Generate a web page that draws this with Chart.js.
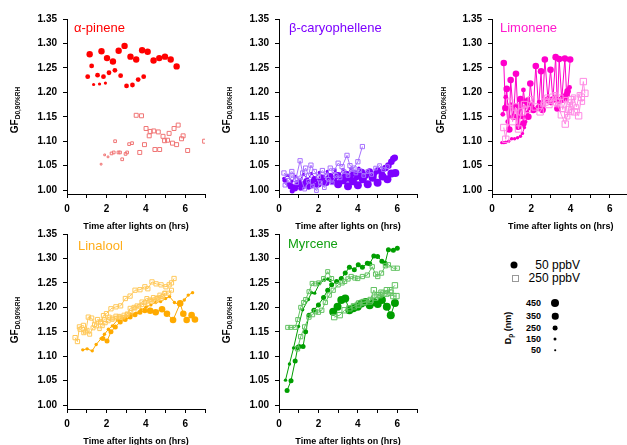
<!DOCTYPE html>
<html>
<head>
<meta charset="utf-8">
<script src="https://cdn.jsdelivr.net/npm/chart.js@4.4.1/dist/chart.umd.min.js"></script>
<style>
  body { margin: 0; width: 627px; height: 445px; overflow: hidden; background: #fff; position: relative;
         font-family: Arial, "Liberation Sans", sans-serif; }
  canvas { position: absolute; }
  .ttl { position: absolute; font-size: 13px; line-height: 1; white-space: nowrap; transform: translateY(-50%); }
  .gf { position: absolute; font-weight: bold; font-size: 10px; white-space: nowrap; line-height: 1;
        transform: translate(-50%, -50%) rotate(-90deg); }
  .gf sub { font-size: 6.5px; vertical-align: -2px; }
  .lg { position: absolute; font-size: 12px; line-height: 1; white-space: nowrap; transform: translateY(-50%); }
  .dp { position: absolute; font-size: 9px; font-weight: bold; line-height: 1; transform: translateY(-50%); }
  .dot { position: absolute; background: #000; border-radius: 50%; transform: translate(-50%, -50%); }
</style>
</head>
<body>

<canvas id="pinene" width="210" height="234" style="left:0;top:0"></canvas>
<canvas id="caryo" width="210" height="234" style="left:212px;top:0"></canvas>
<canvas id="limo" width="210" height="234" style="left:425px;top:0"></canvas>
<canvas id="lina" width="210" height="234" style="left:0;top:215px"></canvas>
<canvas id="myrc" width="210" height="234" style="left:212px;top:215px"></canvas>

<div class="ttl" style="left:74px;top:27px;color:#ff0000">&alpha;-pinene</div>
<div class="ttl" style="left:289px;top:27px;color:#7d00ff">&beta;-caryophellene</div>
<div class="ttl" style="left:500px;top:27px;color:#ff1acc">Limonene</div>
<div class="ttl" style="left:78px;top:245px;color:#ffad1a">Linalool</div>
<div class="ttl" style="left:288px;top:243px;color:#12a012">Myrcene</div>

<div class="gf" style="left:16px;top:110px">GF<sub>D0,90%RH</sub></div>
<div class="gf" style="left:228px;top:110px">GF<sub>D0,90%RH</sub></div>
<div class="gf" style="left:442px;top:110px">GF<sub>D0,90%RH</sub></div>
<div class="gf" style="left:16px;top:320px">GF<sub>D0,90%RH</sub></div>
<div class="gf" style="left:228px;top:320px">GF<sub>D0,90%RH</sub></div>

<!-- legend -->
<div class="dot" style="left:514px;top:265px;width:7px;height:7px"></div>
<div class="lg" style="right:47px;top:265px">50 ppbV</div>
<div style="position:absolute;left:512px;top:275px;width:5px;height:5px;border:1px solid #999"></div>
<div class="lg" style="right:47px;top:278px">250 ppbV</div>
<div class="dp" style="right:86px;top:303px">450</div>
<div class="dp" style="right:86px;top:316px">350</div>
<div class="dp" style="right:86px;top:328px">250</div>
<div class="dp" style="right:86px;top:339px">150</div>
<div class="dp" style="right:86px;top:350px">50</div>
<div class="dot" style="left:555px;top:303px;width:8px;height:8px"></div>
<div class="dot" style="left:555px;top:316px;width:6.5px;height:6.5px"></div>
<div class="dot" style="left:555px;top:328px;width:4.8px;height:4.8px"></div>
<div class="dot" style="left:555px;top:339px;width:3px;height:3px"></div>
<div class="dot" style="left:555px;top:350px;width:1.6px;height:1.6px"></div>
<div class="gf" style="left:509px;top:328px;font-size:9px">D<sub>p</sub> (nm)</div>

<script>
// axis ticks
const timeTicks = [0, 1, 2, 3, 4, 5, 6, 7];
const gfTicks = [1.00, 1.05, 1.10, 1.15, 1.20, 1.25, 1.30, 1.35];

// ---- alpha-pinene: [time (h), GF]
const pin50_350 = [[1.15,1.278],[1.75,1.284],[2.03,1.270],[2.33,1.263],[2.62,1.285],[2.92,1.295],[3.22,1.273],[3.51,1.267],[3.81,1.286],[4.09,1.283],[4.39,1.265],[4.68,1.270],[4.97,1.273],[5.26,1.267],[5.56,1.253]];
const pin50_250 = [[1.05,1.232],[1.25,1.254],[1.55,1.235],[1.85,1.232],[2.13,1.240],[2.43,1.245],[2.72,1.234],[3.02,1.213],[3.32,1.215],[3.61,1.226],[3.89,1.232]];
const pin50_150 = [[1.35,1.216],[1.65,1.217],[1.95,1.219]];
const pin250_big = [[3.51,1.153],[3.78,1.152],[4.01,1.126],[4.17,1.111],[4.22,1.120],[4.40,1.121],[4.63,1.119],[4.87,1.110],[4.95,1.101],[5.10,1.102],[5.18,1.116],[5.35,1.096],[5.43,1.126],[5.56,1.093],[5.64,1.133],[5.81,1.105],[5.89,1.111],[6.12,1.081],[6.98,1.100],[4.46,1.083],[4.70,1.083],[3.93,1.093],[3.69,1.077]];
const pin250_small = [[2.26,1.075],[2.37,1.077],[2.44,1.100],[2.61,1.077],[2.69,1.077],[2.80,1.063],[2.97,1.074],[3.05,1.077],[3.15,1.094],[3.30,1.096]];
const pin250_tiny = [[1.73,1.053],[1.91,1.072],[2.08,1.068]];

// ---- beta-caryophellene
const bc50_450 = [[3.0,1.012],[3.25,1.020],[3.5,1.008],[3.75,1.018],[4.0,1.010],[4.25,1.022],[4.5,1.012],[4.75,1.025],[5.0,1.015],[5.25,1.028],[5.5,1.022],[5.7,1.034],[5.9,1.035]];
const bc50_350 = [[0.6,1.008],[0.8,1.004],[1.0,1.015],[1.2,1.008],[1.4,1.018],[1.6,1.010],[1.8,1.022],[2.0,1.012],[2.2,1.025],[2.4,1.015],[2.6,1.028],[2.8,1.018],[3.0,1.030],[3.2,1.022],[3.4,1.033],[3.6,1.025],[3.8,1.035],[4.0,1.028],[4.2,1.037],[4.4,1.030],[4.6,1.038],[4.8,1.032],[5.0,1.040],[5.2,1.036],[5.4,1.045],[5.55,1.050],[5.7,1.058],[5.8,1.064],[5.87,1.066]];
const bc50_250 = [[0.3,1.020],[0.5,1.012],[0.67,0.998],[0.9,1.010],[1.1,1.004],[1.3,1.015],[1.5,1.006],[1.7,1.018],[1.9,1.010],[2.1,1.022],[2.3,1.014],[2.5,1.025],[2.7,1.016],[2.9,1.028],[3.1,1.020],[3.3,1.030],[3.5,1.022],[3.7,1.032],[3.9,1.024],[4.1,1.034],[4.3,1.026],[4.5,1.035],[4.7,1.028],[4.9,1.036]];
const bc50_150 = [[0.25,1.024],[0.45,1.030],[0.65,1.018],[0.85,1.028],[1.05,1.020],[1.25,1.032],[1.45,1.022],[1.65,1.034],[1.85,1.024],[2.05,1.036],[2.25,1.026],[2.45,1.038],[2.65,1.028],[2.85,1.040],[3.05,1.030],[3.25,1.042],[3.45,1.032],[3.65,1.044],[3.85,1.034],[4.05,1.045]];
const bc250_a = [[0.25,1.035],[0.42,1.028],[0.65,1.038],[0.85,1.022],[1.07,1.060],[1.2,1.035],[1.35,1.045],[1.5,1.030],[1.62,1.051],[1.8,1.038],[2.0,1.028],[2.2,1.040],[2.4,1.030],[2.6,1.045],[2.8,1.040],[3.0,1.055],[3.2,1.048],[3.45,1.071],[3.6,1.050],[3.8,1.045],[4.0,1.058],[4.23,1.089]];
const bc250_b = [[0.3,1.010],[0.5,1.020],[0.7,1.030],[0.9,1.015],[1.1,1.025],[1.3,1.002],[1.5,1.018],[1.7,1.008],[1.9,0.999],[2.1,1.015],[2.3,1.005],[2.5,1.022],[2.7,1.015],[2.9,1.030],[3.1,1.025],[3.3,1.038],[3.5,1.030],[3.7,1.042],[3.9,1.035],[4.1,1.040],[4.3,1.030],[4.5,1.038],[4.7,1.032],[4.9,1.045],[5.1,1.050],[5.3,1.042],[5.5,1.048]];

// ---- limonene
const lim50_150 = [[0.5,1.097],[0.6,1.097],[0.7,1.098],[0.85,1.100],[1.0,1.105],[1.15,1.105],[1.3,1.107],[1.45,1.110],[1.55,1.116],[1.65,1.128],[1.72,1.140],[1.8,1.160],[1.9,1.172]];
const lim50_350 = [[0.6,1.260],[0.68,1.168],[0.75,1.207],[0.88,1.124],[0.95,1.225],[1.1,1.150],[1.22,1.238],[1.35,1.130],[1.45,1.186],[1.6,1.136],[1.75,1.180],[1.85,1.150],[1.95,1.218],[2.1,1.164],[2.23,1.254],[2.37,1.168],[2.5,1.243],[2.57,1.164],[2.69,1.267],[2.85,1.185],[2.98,1.246],[3.1,1.185],[3.24,1.272],[3.33,1.167],[3.42,1.268],[3.55,1.185],[3.71,1.269],[3.8,1.195],[3.85,1.202],[3.98,1.267]];
const lim50_250 = [[0.55,1.155],[0.7,1.190],[0.8,1.140],[0.95,1.175],[1.05,1.150],[1.2,1.172],[1.3,1.128],[1.4,1.185],[1.5,1.150],[1.6,1.205],[1.7,1.170],[1.8,1.185],[1.9,1.168],[2.0,1.175],[2.2,1.165],[2.4,1.180],[2.6,1.165],[2.8,1.185],[3.0,1.178],[3.2,1.190],[3.4,1.180],[3.6,1.192],[3.8,1.186],[3.95,1.210]];
const lim250_a = [[0.6,1.128],[0.7,1.104],[0.9,1.180],[1.05,1.140],[1.2,1.170],[1.35,1.125],[1.5,1.160],[1.65,1.175],[1.8,1.165],[2.0,1.185],[2.2,1.170],[2.45,1.160],[2.7,1.180],[2.9,1.175],[3.1,1.190],[3.3,1.180],[3.53,1.154],[3.73,1.135],[3.9,1.165],[4.05,1.185],[4.2,1.160],[4.41,1.152],[4.55,1.190],[4.65,1.222],[4.73,1.198]];
const lim250_b = [[2.6,1.175],[2.8,1.190],[3.0,1.182],[3.2,1.195],[3.35,1.175],[3.5,1.190],[3.6,1.165],[3.75,1.185],[3.85,1.150],[3.95,1.180],[4.05,1.160],[4.15,1.190],[4.3,1.170],[4.45,1.195],[4.6,1.180]];

// ---- linalool
const lin50_150 = [[0.8,1.113],[1.02,1.115],[1.28,1.111],[1.48,1.124],[1.73,1.136],[1.9,1.145],[2.1,1.155],[2.3,1.162],[2.56,1.174],[2.8,1.178],[3.0,1.182],[3.25,1.186],[3.5,1.188],[3.75,1.195],[4.0,1.200],[4.25,1.205],[4.5,1.210],[4.75,1.212],[5.0,1.218],[5.2,1.222],[5.45,1.210],[5.7,1.205],[5.95,1.215],[6.15,1.225],[6.37,1.230]];
const lin50_250 = [[1.82,1.136],[2.03,1.131],[2.23,1.150],[2.45,1.160],[2.7,1.170],[2.95,1.175],[3.2,1.180],[3.45,1.185],[3.7,1.190],[3.95,1.193],[4.2,1.194]];
const lin50_350 = [[4.22,1.193],[4.5,1.190],[4.82,1.196],[5.07,1.187],[5.38,1.174],[5.74,1.208],[5.9,1.187],[6.07,1.174],[6.32,1.184],[6.49,1.175]];
const lin250_a = [[0.41,1.138],[0.53,1.130],[0.63,1.160],[0.83,1.163],[0.95,1.150],[1.08,1.180],[1.25,1.178],[1.4,1.165],[1.55,1.175],[1.7,1.170],[1.85,1.183],[2.0,1.187],[2.23,1.197],[2.48,1.201],[2.72,1.203],[2.96,1.218],[3.2,1.223],[3.45,1.235],[3.7,1.236],[3.95,1.242],[4.1,1.238],[4.31,1.252],[4.52,1.248],[4.77,1.246],[5.02,1.242],[5.18,1.246],[5.3,1.250],[5.43,1.259]];
const lin250_b = [[0.66,1.155],[0.85,1.148],[1.02,1.153],[1.15,1.145],[1.32,1.158],[1.5,1.162],[1.7,1.170],[1.9,1.175],[2.14,1.180],[2.3,1.178],[2.48,1.182],[2.7,1.180],[2.89,1.184],[3.05,1.185],[3.2,1.198],[3.4,1.200],[3.55,1.203],[3.8,1.211],[4.05,1.218],[4.2,1.215],[4.38,1.220],[4.55,1.218],[4.71,1.225],[4.85,1.222],[4.96,1.229],[5.16,1.229],[5.3,1.235]];
const lin250_c = [[1.65,1.156],[1.8,1.162],[1.95,1.168],[2.1,1.172],[2.3,1.175],[2.5,1.178],[2.64,1.182],[2.85,1.180],[3.05,1.187],[3.25,1.190],[3.45,1.198],[3.65,1.202],[3.8,1.205],[3.95,1.209],[4.1,1.207],[4.29,1.215],[4.45,1.212],[4.62,1.220],[4.8,1.218],[4.96,1.229]];

// ---- myrcene
const myr50_150 = [[0.33,1.051],[0.53,1.084],[0.74,1.117],[0.99,1.161],[1.2,1.195],[1.49,1.216],[1.65,1.230],[1.81,1.229],[2.06,1.249],[2.31,1.256],[2.48,1.258],[2.6,1.255]];
const myr50_250 = [[0.41,1.030],[0.61,1.050],[0.82,1.090],[0.95,1.118],[1.02,1.120],[1.22,1.120],[1.35,1.150],[1.52,1.184],[1.77,1.194],[2.0,1.205],[2.26,1.220],[2.47,1.235],[2.67,1.246],[2.92,1.253],[3.16,1.259],[3.36,1.270],[3.57,1.282],[3.82,1.277],[4.02,1.287],[4.23,1.282],[4.48,1.290],[4.6,1.289],[4.81,1.305],[5.0,1.304],[5.22,1.294],[5.38,1.290],[5.55,1.318],[5.8,1.317],[6.0,1.321]];
const myr50_450 = [[2.75,1.191],[2.97,1.201],[3.16,1.215],[3.36,1.218],[3.57,1.194],[3.77,1.198],[3.99,1.201],[4.18,1.208],[4.4,1.211],[4.6,1.204],[4.81,1.211],[5.01,1.207],[5.22,1.215],[5.47,1.201],[5.67,1.184],[5.88,1.209]];
const myr250_a = [[0.44,1.159],[0.6,1.159],[0.82,1.159],[0.95,1.175],[1.1,1.200],[1.25,1.210],[1.35,1.216],[1.52,1.232],[1.68,1.249],[1.85,1.248],[2.01,1.250],[2.26,1.259],[2.47,1.273],[2.67,1.259]];
const myr250_b = [[0.94,1.115],[1.1,1.140],[1.3,1.160],[1.52,1.180],[1.7,1.185],[1.85,1.191],[2.0,1.190],[2.17,1.194],[2.35,1.210],[2.55,1.225],[2.75,1.235],[3.0,1.246],[3.2,1.250],[3.33,1.253],[3.5,1.258],[3.66,1.263],[3.85,1.260],[3.99,1.259],[4.23,1.263],[4.48,1.266],[4.73,1.283],[4.9,1.268],[5.01,1.263],[5.2,1.270],[5.4,1.285],[5.55,1.287],[5.8,1.280],[6.0,1.280]];
const myr250_c = [[2.8,1.180],[3.08,1.184],[3.33,1.194],[3.57,1.198],[3.8,1.202],[4.07,1.208],[4.32,1.211],[4.65,1.215],[4.89,1.220],[5.1,1.225],[5.3,1.228],[5.47,1.235],[5.65,1.230],[5.8,1.223],[5.96,1.223]];
const myr250_d = [[4.0,1.205],[4.3,1.210],[4.6,1.212],[4.81,1.235],[5.0,1.225],[5.2,1.230],[5.45,1.228],[5.65,1.235],[5.88,1.245]];

const tickFont = { family: 'Arial, "Liberation Sans", sans-serif', size: 10, weight: 'bold' };

// filled circle = 50 ppbV, hollow square = 250 ppbV
function circ(pts, color, r) { return { pts, color, r, square: false }; }
function sq(pts, color, r) { return { pts, color, r, square: true }; }

function renderPanel(canvasId, series, lines) {
    const ctx = document.getElementById(canvasId);
    new Chart(ctx, {
        type: 'scatter',
        data: {
            datasets: series.map(s => ({
                data: s.pts.map(p => ({ x: p[0], y: p[1] })),
                showLine: lines,
                borderColor: s.color,
                borderWidth: 1,
                tension: 0,
                pointStyle: s.square ? 'rect' : 'circle',
                pointRadius: s.r,
                pointHoverRadius: s.r,
                pointBorderWidth: s.square ? 1 : 0,
                pointBorderColor: s.color,
                pointBackgroundColor: s.square ? 'rgba(255,255,255,0)' : s.color
            }))
        },
        options: {
            responsive: false,
            animation: false,
            devicePixelRatio: 1,
            layout: { padding: { top: 19, right: 2, left: 0, bottom: 0 } },
            plugins: { legend: { display: false }, tooltip: { enabled: false } },
            scales: {
                x: {
                    type: 'linear', min: 0, max: 7,
                    afterBuildTicks: s => { s.ticks = timeTicks.map(v => ({ value: v })); },
                    afterFit: s => { s.height = 40; },
                    grid: { drawOnChartArea: false, tickLength: 4, tickColor: '#000' },
                    border: { color: '#000', width: 1 },
                    ticks: { font: tickFont, color: '#000', padding: 5, maxRotation: 0, autoSkip: false,
                             callback: v => (v % 2 === 0 ? v : '') },
                    title: { display: true, text: 'Time after lights on (hrs)', color: '#000',
                             font: { family: tickFont.family, size: 9, weight: 'bold' },
                             padding: { top: 0, bottom: 2 } }
                },
                y: {
                    type: 'linear', min: 0.992, max: 1.35,
                    afterBuildTicks: s => { s.ticks = gfTicks.map(v => ({ value: v })); },
                    afterFit: s => { s.width = 67; },
                    grid: { drawOnChartArea: false, tickLength: 4, tickColor: '#000' },
                    border: { color: '#000', width: 1 },
                    ticks: { font: tickFont, color: '#000', padding: 6, autoSkip: false,
                             callback: v => v.toFixed(2) }
                }
            }
        }
    });
}

const RED = '#ff0000', RED_L = '#f07575';
const PUR = '#7d00ff', PUR_L = '#a872ff';
const MAG = '#ff00cc', MAG_L = '#ff8ae4';
const ORA = '#ffaa00', ORA_L = '#ffc85a';
const GRN = '#009e00', GRN_L = '#62c262';

renderPanel('pinene', [
    circ(pin50_350, RED, 3.2), circ(pin50_250, RED, 2.4), circ(pin50_150, RED, 1.6),
    sq(pin250_big, RED_L, 2.8), sq(pin250_small, RED_L, 1.9), sq(pin250_tiny, RED_L, 1.2)
], false);

renderPanel('caryo', [
    sq(bc250_a, PUR_L, 3), sq(bc250_b, PUR_L, 2.6),
    circ(bc50_450, PUR, 4), circ(bc50_350, PUR, 3.3), circ(bc50_250, PUR, 2.5), circ(bc50_150, PUR, 1.7)
], true);

renderPanel('limo', [
    sq(lim250_a, MAG_L, 4.5), sq(lim250_b, MAG_L, 3.2),
    circ(lim50_350, MAG, 3.3), circ(lim50_250, MAG, 2.4), circ(lim50_150, MAG, 1.7)
], true);

renderPanel('lina', [
    sq(lin250_a, ORA_L, 3), sq(lin250_b, ORA_L, 2.8), sq(lin250_c, ORA_L, 2.5),
    circ(lin50_350, ORA, 3.3), circ(lin50_250, ORA, 2.5), circ(lin50_150, ORA, 1.7)
], true);

renderPanel('myrc', [
    sq(myr250_a, GRN_L, 2.8), sq(myr250_b, GRN_L, 3), sq(myr250_c, GRN_L, 3.8), sq(myr250_d, GRN_L, 3.8),
    circ(myr50_450, GRN, 4), circ(myr50_250, GRN, 2.5), circ(myr50_150, GRN, 1.7)
], true);
</script>
</body>
</html>
